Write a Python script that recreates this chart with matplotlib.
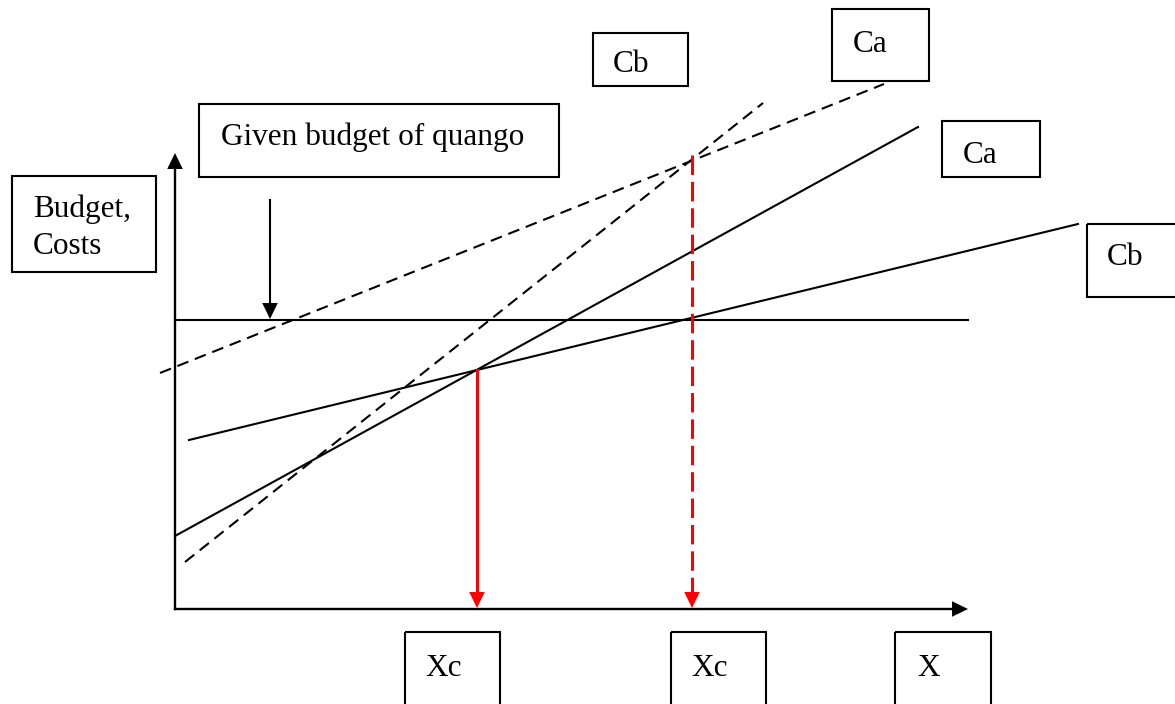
import matplotlib.pyplot as plt
from matplotlib.patches import Rectangle

plt.rcParams['font.family'] = ['Liberation Serif', 'DejaVu Serif']
plt.rcParams['lines.scale_dashes'] = False

# diagram drawn in pixel units of the original picture (y grows downwards)
axis_origin = (175, 609)
y_axis_top = 153
x_axis_right = 968
budget_level = 320
budget_x = [175, 968]

# cost lines: (x0, x1), (y0, y1)
ca_solid_x = [175, 918]
ca_solid_y = [536, 127]
cb_solid_x = [189, 1078]
cb_solid_y = [440, 224]
ca_dash_x = [160, 884]
ca_dash_y = [373, 84]
cb_dash_x = [185, 763]
cb_dash_y = [562, 103]

# red drop lines to the x axis
xc_solid = 477
xc_solid_top = 370
xc_dash = 692
xc_dash_top = 155

# pointer from the budget label
pointer_x = 270
pointer_top = 200

# label boxes: text lines, box (x, y, w, h), text position (x, first baseline)
labels = [
    (["Given budget of quango"], (199, 104, 360, 73), (221, 145)),
    (["Budget,", "Costs"], (12, 176, 144, 96), (33, 217)),
    (["Cb"], (593, 33, 95, 53), (613, 72)),
    (["Ca"], (832, 9, 97, 72), (853, 52)),
    (["Ca"], (942, 121, 98, 56), (963, 163)),
    (["Cb"], (1087, 224, 95, 73), (1107, 265)),
    (["Xc"], (405, 632, 95, 80), (425, 676)),
    (["Xc"], (671, 632, 95, 80), (691, 676)),
    (["X"], (895, 632, 96, 80), (917, 676)),
]
line_gap = 37

fig = plt.figure(figsize=(11.75, 7.04), dpi=100)
ax = fig.add_axes([0, 0, 1, 1])
ax.set_xlim(0, 1175)
ax.set_ylim(704, 0)
ax.axis('off')

lw = 1.5
head = dict(arrowstyle='-|>,head_length=11.5,head_width=5.6', mutation_scale=1,
            shrinkA=0, shrinkB=0, lw=0)


def arrow_head(tip, direction, color):
    dx, dy = direction
    ax.annotate('', xy=tip, xytext=(tip[0] - dx, tip[1] - dy),
                arrowprops=dict(head, color=color))


# axes
ox, oy = axis_origin
ax.plot([ox, ox], [oy, y_axis_top + 14], color='black', lw=1.7)
arrow_head((ox, y_axis_top), (0, -1), 'black')
ax.plot([ox, x_axis_right - 14], [oy, oy], color='black', lw=1.7)
arrow_head((x_axis_right, oy), (1, 0), 'black')

# budget line and pointer
ax.plot(budget_x, [budget_level, budget_level], color='black', lw=lw)
ax.plot([pointer_x, pointer_x], [pointer_top, budget_level - 14], color='black', lw=lw)
arrow_head((pointer_x, budget_level - 1), (0, 1), 'black')

# cost curves
ax.plot(ca_solid_x, ca_solid_y, color='black', lw=lw)
ax.plot(cb_solid_x, cb_solid_y, color='black', lw=lw)
ax.plot(ca_dash_x, ca_dash_y, color='black', lw=lw, dashes=(8.5, 5))
ax.plot(cb_dash_x, cb_dash_y, color='black', lw=lw, dashes=(8.5, 5))

# red drop lines
red = '#ff0000'
ax.plot([xc_solid, xc_solid], [xc_solid_top, oy - 14], color=red, lw=2.2)
arrow_head((xc_solid, oy - 1), (0, 1), red)
ax.plot([xc_dash, xc_dash], [xc_dash_top, oy - 14], color=red, lw=2.2, dashes=(14, 5))
arrow_head((xc_dash, oy - 1), (0, 1), red)

# label boxes
for lines, (bx, by, bw, bh), (tx, ty) in labels:
    ax.add_patch(Rectangle((bx, by), bw, bh, fill=False, edgecolor='black', lw=1.5))
    for i, line in enumerate(lines):
        ax.text(tx, ty + i * line_gap, line, fontsize=22.5, ha='left', va='baseline')

fig.savefig('out.png', dpi=100)
